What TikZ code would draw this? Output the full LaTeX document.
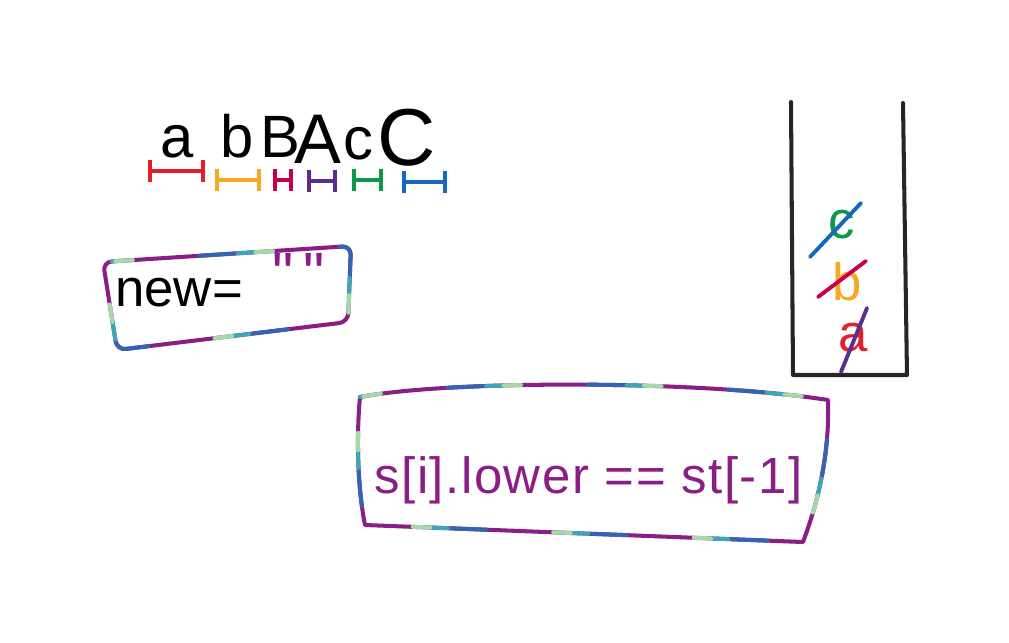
\documentclass[tikz,border=0pt]{standalone}
\usepackage{fontspec}
\setmainfont{Liberation Sans}
\newfontfamily\rawfont{Liberation Sans}[Ligatures=TeXOff]
\usetikzlibrary{arrows.meta}

\definecolor{inkred}{HTML}{E41E2B}
\definecolor{inkorange}{HTML}{F7A823}
\definecolor{inkcrimson}{HTML}{C6004F}
\definecolor{inkviolet}{HTML}{5C2D91}
\definecolor{inkgreen}{HTML}{0B9A4A}
\definecolor{inkblue}{HTML}{1767BE}
\definecolor{inkplum}{HTML}{8A1D86}
\definecolor{glowblue}{HTML}{3563B0}
\definecolor{glowteal}{HTML}{3BA8B8}
\definecolor{glowmint}{HTML}{A6D8A8}

\begin{document}
\begin{tikzpicture}[
    x=0.02cm, y=-0.02cm, line cap=round, line join=round,
    letter/.style={anchor=base, inner sep=0pt},
    stk/.style={inner sep=0pt, font=\fontsize{30}{36}\selectfont},
    brk/.style={line width=2.4pt, {Bar[width=13pt]}-{Bar[width=13pt]}},
    strike/.style={line width=2.2pt},
    wall/.style={line width=2.3pt, draw=black!85},
    glowbox/.style={line width=2.3pt, draw=inkplum,
        postaction={draw=glowblue, dash pattern=on 20pt off 60pt, dash phase=30pt},
        postaction={draw=glowteal, dash pattern=on 10pt off 70pt, dash phase=8pt},
        postaction={draw=glowmint, dash pattern=on 10pt off 70pt, dash phase=-2pt}}
]
\useasboundingbox (0,0) rectangle (1009,643);

% the string and its pairs
\foreach \ch/\xx/\yy/\sz [count=\i] in {a/177/157/34, b/237/157/34, B/280/157/34, A/318/163/40, c/358/159/34, C/407/165/46} {
    \node[letter, font=\fontsize{\sz}{\sz}\selectfont] (l\i) at (\xx,\yy) {\ch};
}
\foreach \xa/\xb/\yy/\col in {148/205/171/inkred, 215/261/180/inkorange, 273/293/180/inkcrimson,
    307/337/181/inkviolet, 352/383/180/inkgreen, 402/447/182/inkblue} {
    \draw[brk, \col] (\xa,\yy) -- (\xb,\yy);
}

% result string
\node[anchor=base west, inner sep=0pt, font=\fontsize{30}{36}\selectfont] (newtxt) at (115,306) {new=};
\node[anchor=base west, inner sep=0pt, inkplum, font=\rawfont\fontsize{34}{40}\selectfont] (quot) at (272,294) {"\,"};
\draw[glowbox, rounded corners=5pt] (103,262) -- (351,246) -- (348,322) -- (117,350) -- cycle;

% stack
\coordinate (swtop) at (791,102);
\coordinate (swbot) at (793,375);
\coordinate (setop) at (903,103);
\coordinate (sebot) at (907,375);
\draw[wall] (swtop) -- (swbot) -- (sebot) -- (setop);

\node[stk, inkgreen] (sc) at (842,225) {c};
\node[stk, inkorange] (sb) at (847,282) {b};
\node[stk, inkred] (sa) at (853,338) {a};
\draw[strike, inkblue] (810,257) -- (861,203);
\draw[strike, inkcrimson] (818,297) -- (866,261);
\draw[strike, inkviolet] (841,372) -- (867,308);

% condition
\node[anchor=base west, inner sep=0pt, inkplum, font=\fontsize{29}{34}\selectfont\addfontfeature{LetterSpace=3}] (cond) at (374,493) {s[i].lower == st[-1]};
\draw[glowbox] (360,397) .. controls (450,380) and (700,380) .. (828,400)
    .. controls (830,460) and (815,510) .. (803,542)
    -- (365,525) .. controls (358,490) and (356,440) .. (360,397);

\end{tikzpicture}
\end{document}
